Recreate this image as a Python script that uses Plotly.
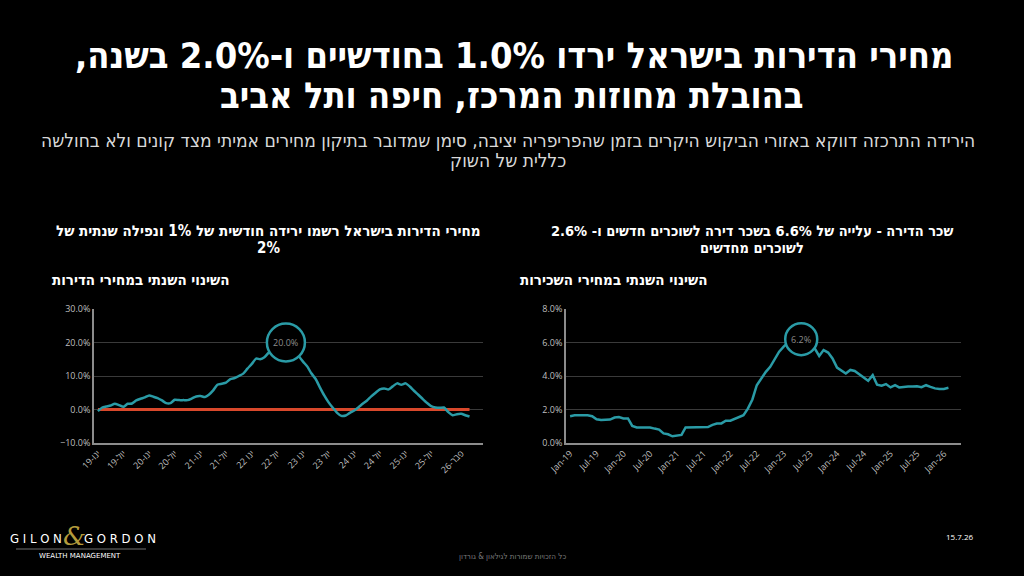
import pandas as pd
import plotly.graph_objects as go

# monthly series, Jan-2019 onwards
price_change = [
    -0.5, 0.6, 0.9, 1.2, 1.7, 1.3, 0.8, 1.7, 1.8, 2.7, 3.2, 3.6,        # 2019
    4.2, 3.8, 3.4, 2.7, 1.9, 1.9, 2.9, 2.8, 2.8, 2.8, 3.3, 3.9,         # 2020
    4.0, 3.7, 4.4, 5.7, 7.4, 7.7, 8.0, 9.1, 9.4, 10.0, 10.7, 12.2,      # 2021
    13.6, 15.2, 15.0, 15.6, 17.0, 18.4, 19.2, 19.7, 20.0, 19.5, 18.2, 16.0,  # 2022
    14.3, 12.8, 10.8, 9.1, 6.6, 4.2, 2.2, 0.5, -1.0, -1.9, -1.8, -1.0,  # 2023
    -0.3, 0.7, 1.7, 2.7, 3.9, 5.0, 6.0, 6.3, 6.0, 6.9, 7.8, 7.4,        # 2024
    7.8, 6.8, 5.6, 4.4, 3.2, 2.0, 1.0, 0.6, 0.5, 0.6, -0.8, -1.7,       # 2025
    -1.4, -1.3, -1.7, -2.1,                                            # 2026
]
rent_change = [
    1.60, 1.66, 1.66, 1.66, 1.66, 1.60, 1.42, 1.37, 1.37, 1.40, 1.52, 1.55,  # 2019
    1.47, 1.47, 1.02, 0.93, 0.93, 0.93, 0.93, 0.86, 0.80, 0.57, 0.52, 0.40,  # 2020
    0.44, 0.48, 0.93, 0.93, 0.93, 0.93, 0.93, 0.95, 1.08, 1.16, 1.17, 1.33,  # 2021
    1.33, 1.45, 1.54, 1.66, 2.05, 2.60, 3.45, 3.85, 4.25, 4.55, 5.05, 5.45,  # 2022
    5.75, 6.00, 6.05, 6.15, 6.20, 6.10, 5.90, 5.65, 5.20, 5.55, 5.40, 5.05,  # 2023
    4.50, 4.30, 4.15, 4.36, 4.30, 4.10, 3.92, 3.72, 4.05, 3.48, 3.42, 3.52,  # 2024
    3.32, 3.45, 3.32, 3.36, 3.37, 3.38, 3.39, 3.33, 3.45, 3.35, 3.26, 3.23,  # 2025
    3.23, 3.30,                                                              # 2026
]
price_dates = pd.date_range("2019-01-01", periods=len(price_change), freq="MS")
rent_dates = pd.date_range("2019-01-01", periods=len(rent_change), freq="MS")

price_tickvals = ["2019-01-01", "2019-07-01", "2020-01-01", "2020-07-01", "2021-01-01",
                  "2021-07-01", "2022-01-01", "2022-07-01", "2023-01-01", "2023-07-01",
                  "2024-01-01", "2024-07-01", "2025-01-01", "2025-07-01", "2026-02-01"]
price_ticktext = ["19-ינו", "19-יול", "20-ינו", "20-יול", "21-ינו", "21-יול", "22 ינו", "22 יול",
                  "23 ינו", "23 יול", "24 ינו", "24 יול", "25-ינו", "25-יול", "26-פבר"]
rent_tickvals = ["2019-01-01", "2019-07-01", "2020-01-01", "2020-07-01", "2021-01-01",
                 "2021-07-01", "2022-01-01", "2022-07-01", "2023-01-01", "2023-07-01",
                 "2024-01-01", "2024-07-01", "2025-01-01", "2025-07-01", "2026-01-01"]
rent_ticktext = ["Jan-19", "Jul-19", "Jan-20", "Jul-20", "Jan-21", "Jul-21", "Jan-22", "Jul-22",
                 "Jan-23", "Jul-23", "Jan-24", "Jul-24", "Jan-25", "Jul-25", "Jan-26"]

TEAL = "#2a9ba6"
RED = "#d9482b"
W, H = 1024, 576
HEB = "DejaVu Sans Condensed, Liberation Sans, sans-serif"
TICK = "Open Sans, Liberation Sans, sans-serif"

def px(x):
    return x / W

def py(y):
    return 1 - y / H

fig = go.Figure()
# zero line + price series (left)
fig.add_trace(go.Scatter(x=[price_dates[0], price_dates[-1]], y=[0, 0], mode="lines",
                         line=dict(color=RED, width=3), xaxis="x", yaxis="y", hoverinfo="skip"))
fig.add_trace(go.Scatter(x=price_dates, y=price_change, mode="lines",
                         line=dict(color=TEAL, width=2.5, shape="spline", smoothing=0.6),
                         xaxis="x", yaxis="y"))
# rent series (right)
fig.add_trace(go.Scatter(x=rent_dates, y=rent_change, mode="lines",
                         line=dict(color=TEAL, width=2.5), xaxis="x2", yaxis="y2"))

yb, yt = py(443), py(309)
axis_common = dict(showgrid=False, showline=True, linecolor="#8c8c8c", linewidth=1.5,
                   ticks="", tickangle=-45, automargin=False,
                   tickfont=dict(family=TICK, size=9, color="#bfbfbf"))
yaxis_common = dict(showgrid=True, gridcolor="#3a3a3a", gridwidth=1, zeroline=False,
                    showline=True, linecolor="#8c8c8c", linewidth=1.5, ticks="",
                    ticksuffix="%", tickformat=".1f", automargin=False,
                    tickfont=dict(family=TICK, size=9, color="#bfbfbf"))

fig.update_layout(
    width=W, height=H, margin=dict(l=0, r=0, t=0, b=0, pad=0, autoexpand=False),
    paper_bgcolor="black", plot_bgcolor="black", showlegend=False,
    xaxis=dict(domain=[px(94), px(483)], anchor="y", type="date",
               range=["2018-12-04", "2026-07-06"],
               tickvals=price_tickvals, ticktext=price_ticktext, **axis_common),
    yaxis=dict(domain=[yb, yt], anchor="x", range=[-10, 30], dtick=10, **yaxis_common),
    xaxis2=dict(domain=[px(566), px(961)], anchor="y2", type="date",
                range=["2018-12-04", "2026-04-28"],
                tickvals=rent_tickvals, ticktext=rent_ticktext, **axis_common),
    yaxis2=dict(domain=[yb, yt], anchor="x2", range=[0, 8], dtick=2, **yaxis_common),
)

# highlight circles at peaks
pk = price_change.index(max(price_change))
rk = rent_change.index(max(rent_change))
for xr, yr, xv, yv, r, label in [("x", "y", price_dates[pk], price_change[pk], 19, "20.0%"),
                                  ("x2", "y2", rent_dates[rk], rent_change[rk], 16, "6.2%")]:
    fig.add_shape(type="circle", xref=xr, yref=yr, xsizemode="pixel", ysizemode="pixel",
                  xanchor=xv, yanchor=yv, x0=-r, x1=r, y0=-r, y1=r,
                  fillcolor="black", line=dict(color=TEAL, width=2.5), layer="above")
    fig.add_annotation(x=xv, y=yv, xref=xr, yref=yr, text=label, showarrow=False,
                       font=dict(family=TICK, size=9, color="#8c8c8c"))

def txt(x, y, s, size, color="white", bold=False, xanchor="center", family=HEB):
    if bold:
        s = "<b>" + s + "</b>"
    fig.add_annotation(x=px(x), y=py(y), xref="paper", yref="paper", text=s, showarrow=False,
                       xanchor=xanchor, yanchor="middle", align="center",
                       font=dict(family=family, size=size, color=color))

# titles
txt(514, 55, "מחירי הדירות בישראל ירדו 1.0% בחודשיים ו-2.0% בשנה,\u200f", 36, bold=True)
txt(512, 96, "בהובלת מחוזות המרכז, חיפה ותל אביב", 36, bold=True)
txt(508, 140, "הירידה התרכזה דווקא באזורי הביקוש היקרים בזמן שהפריפריה יציבה, סימן שמדובר בתיקון מחירים אמיתי מצד קונים ולא בחולשה",
    19, color="#d9d9d9")
txt(508, 160, "כללית של השוק", 19, color="#d9d9d9")
txt(268, 231, "מחירי הדירות בישראל רשמו ירידה חודשית של 1% ונפילה שנתית של", 15, bold=True)
txt(268, 248, "2%", 15, bold=True)
txt(752, 231, "שכר הדירה - עלייה של 6.6% בשכר דירה לשוכרים חדשים ו- 2.6%", 14.5, bold=True)
txt(752, 248, "לשוכרים מחדשים", 14.5, bold=True)
txt(232, 280, "השינוי השנתי במחירי הדירות", 15, bold=True, xanchor="right")
txt(710, 280, "השינוי השנתי במחירי השכירות", 15, bold=True, xanchor="right")

# footer
txt(36, 538, "G I L O N", 13, family="DejaVu Sans Condensed, sans-serif")
txt(74, 536, "<i>&amp;</i>", 26, color="#b39b3c", family="DejaVu Serif, serif")
txt(120, 538, "G O R D O N", 13, family="DejaVu Sans Condensed, sans-serif")
fig.add_shape(type="line", xref="paper", yref="paper", x0=px(16), x1=px(146), y0=py(549), y1=py(549),
              line=dict(color="#707070", width=1))
txt(80, 556, "WEALTH MANAGEMENT", 7, family="DejaVu Sans, sans-serif")
txt(960, 536, "15.7.26", 8, family=TICK)
txt(512, 556, "כל הזכויות שמורות לגילאון & גורדון", 8, color="#7a7a7a")

fig.write_html("out.html", config={"displayModeBar": False},
               post_script="document.body.style.margin='0';document.body.style.background='black';")
